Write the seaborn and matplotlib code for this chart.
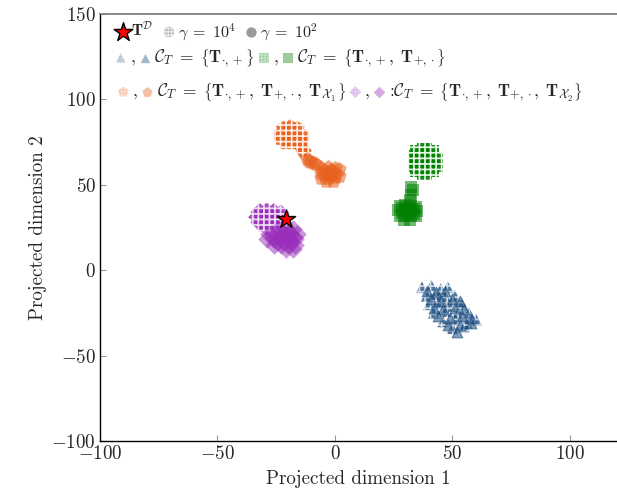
import matplotlib
matplotlib.use("Agg")
import matplotlib.pyplot as plt
import seaborn as sns
import numpy as np
import pandas as pd

# ---------------- data ----------------
# C_T = {T.+}  (blue triangles)
blue_h_x = [37, 41, 45, 48, 39, 43, 47, 51, 40, 44, 49, 54, 42, 47, 52, 57, 46, 51, 56, 60, 50, 55]
blue_h_y = [-10, -9, -11, -10, -15, -14, -16, -15, -20, -19, -21, -20, -25, -24, -26, -25, -30, -29, -31, -29, -34, -33]
blue_s_x = [39, 43, 47, 41, 45, 50, 53, 42, 46, 51, 55, 44, 49, 54, 58, 48, 53, 58, 52]
blue_s_y = [-12, -13, -12, -17, -18, -17, -18, -22, -23, -22, -23, -27, -28, -27, -28, -32, -32, -31, -36]

# C_T = {T.+, T+.}  (green squares)
green_h_x = [35, 38, 41, 34, 37, 40, 43, 34, 37, 40, 43, 35, 38, 41, 38]
green_h_y = [69, 70, 69, 66, 66, 66, 65, 62, 62, 62, 62, 59, 59, 59, 57]
green_s_x = [27.5, 30, 32.5, 34.5, 27, 30, 32.5, 35, 27.5, 30, 32.5, 34.5, 29.5, 32,
             32, 32.5, 33, 32.5, 28.5, 31, 33.5, 28.5, 31, 33.5]
green_s_y = [37.5, 38, 37.5, 37, 35, 35, 35, 34.5, 32, 31.5, 32, 32, 29.5, 29.5,
             41, 44, 47, 49, 36.5, 36.5, 36, 33.5, 33.5, 33]

# C_T = {T.+, T+., T_X1}  (orange pentagons)
orange_h_x = [-22, -19, -16, -23, -20, -17, -14, -23, -20, -17, -14, -21, -18, -15, -14, -13]
orange_h_y = [83, 84, 83, 80, 80, 80, 79, 77, 77, 77, 76, 74.5, 74.5, 74, 71, 69]
orange_s_x = [-12, -10, -8, -6, -3, 0, -6, -3, 0, -6, -3, 0, -4, -1,
              -4.5, -1.5, -4.5, -1.5, -9, -11, 1.5, 1.5]
orange_s_y = [65, 63.5, 62, 60, 60.5, 60, 57, 57, 57, 54, 54, 54.5, 52, 52,
              58.5, 58.5, 55.5, 55.5, 63, 64, 59, 55]

# C_T = {T.+, T+., T_X2}  (purple diamonds)
purple_h_x = [-32, -29, -26, -23, -33, -30, -27, -24, -32, -29, -26, -29]
purple_h_y = [34, 34.5, 34, 33, 31, 31, 31, 30, 28, 28, 27.5, 25]
purple_s_x = [-24, -21, -18, -28, -25, -22, -19, -16, -29, -26, -23, -20, -17, -26, -23, -20, -17, -21, -18,
              -22.5, -19.5, -26.5, -23.5, -20.5, -17.5, -24.5, -21.5, -18.5]
purple_s_y = [24, 24.5, 24, 21, 21, 21, 21, 21, 18, 18, 18, 18, 18, 15, 15, 15, 15, 12.5, 12.5,
              22.5, 22.5, 19.5, 19.5, 19.5, 19.5, 16.5, 16.5, 16.5]

# T^D
star_x = [-21]
star_y = [30]

labels_row1 = [r'$\mathbf{T}^{\mathcal{D}}$', r'$\gamma\;=\;10^4$', r'$\gamma\;=\;10^2$']
label_c1 = r'$\mathcal{C}_T\;=\;\left\{\mathbf{T}_{\cdot,+}\right\}$'
label_c2 = r'$\mathcal{C}_T\;=\;\left\{\mathbf{T}_{\cdot,+},\;\mathbf{T}_{+,\cdot}\right\}$'
label_c3 = r'$\mathcal{C}_T\;=\;\left\{\mathbf{T}_{\cdot,+},\;\mathbf{T}_{+,\cdot},\;\mathbf{T}_{\mathcal{X}_1}\right\}$'
label_c4 = r':$\mathcal{C}_T\;=\;\left\{\mathbf{T}_{\cdot,+},\;\mathbf{T}_{+,\cdot},\;\mathbf{T}_{\mathcal{X}_2}\right\}$'

# ---------------- style ----------------
sns.set_style("white")
plt.rcParams['font.family'] = 'serif'
plt.rcParams['font.serif'] = ['cmr10', 'DejaVu Serif']
plt.rcParams['mathtext.fontset'] = 'cm'
plt.rcParams['axes.formatter.use_mathtext'] = True
plt.rcParams['hatch.color'] = 'white'
plt.rcParams['hatch.linewidth'] = 1.2
plt.rcParams['axes.unicode_minus'] = True

BLUE = '#174A7E'
GREEN = '#008000'
ORANGE = '#E8601C'
PURPLE = '#9A2EBA'

fig = plt.figure(figsize=(6.17, 5.0), dpi=100)
ax = fig.add_axes([0.162, 0.118, 0.838, 0.854])

HATCH = '+++'

def cloud(x, y, color, marker, s, hatched, alpha=0.55, lw=0.0):
    kw = dict(x=x, y=y, color=color, marker=marker, s=s, alpha=alpha, ax=ax, legend=False)
    if hatched:
        kw.update(hatch=HATCH, edgecolor='white', linewidth=0.0)
    else:
        kw.update(edgecolor=color, linewidth=lw)
    sns.scatterplot(**kw)

cloud(blue_h_x, blue_h_y, BLUE, '^', 70, True, alpha=0.75)
cloud(blue_s_x, blue_s_y, BLUE, '^', 60, False, alpha=0.55, lw=0.8)
cloud(green_h_x, green_h_y, GREEN, 's', 110, True, alpha=0.9)
cloud(green_s_x, green_s_y, GREEN, 's', 80, False, alpha=0.55)
cloud(orange_h_x, orange_h_y, ORANGE, 'p', 120, True, alpha=0.9)
cloud(orange_s_x, orange_s_y, ORANGE, 'p', 120, False, alpha=0.55)
cloud(purple_h_x, purple_h_y, PURPLE, 'D', 90, True, alpha=0.85)
cloud(purple_s_x, purple_s_y, PURPLE, 'D', 90, False, alpha=0.5)

sns.scatterplot(x=star_x, y=star_y, marker='*', s=190, color='red',
                edgecolor='black', linewidth=1.0, ax=ax, legend=False, zorder=5)

# ---------------- axes ----------------
ax.set_xlim(-100, 120)
ax.set_ylim(-100, 150)
ax.set_xticks([-100, -50, 0, 50, 100])
ax.set_yticks([-100, -50, 0, 50, 100, 150])
ax.tick_params(direction='in', length=4.5, width=0.8, color='#999999',
               labelsize=13.7, pad=3, top=False, right=False, bottom=True, left=True)
ax.set_xlabel('Projected dimension 1', fontsize=13.7, labelpad=5)
ax.set_ylabel('Projected dimension 2', fontsize=13.7, labelpad=3)
for side in ['left', 'bottom']:
    ax.spines[side].set_color('black')
    ax.spines[side].set_linewidth(1.0)
ax.spines['top'].set_color('#777777')
ax.spines['top'].set_linewidth(1.2)
ax.spines['right'].set_visible(False)

# ---------------- legend ----------------
def proxy(color, marker, hatched, s=45, alpha=0.4, ec=None, lw=0.0):
    kw = dict(c=[color], marker=marker, s=s, alpha=alpha)
    if hatched:
        kw.update(hatch='+++++', edgecolor='white', linewidths=0.0)
    else:
        kw.update(edgecolors=ec if ec else color, linewidths=lw)
    return ax.scatter([], [], **kw)

star_h = ax.scatter([], [], c=['red'], marker='*', s=200, edgecolors='black', linewidths=1.0)
g4_h = proxy('#777777', 'o', True, s=55, alpha=0.75)
g2_h = proxy('#777777', 'o', False, s=55, alpha=0.75)

common = dict(loc='center left', frameon=False, handletextpad=0.1,
              handlelength=0.9, borderaxespad=0.0, borderpad=0.0, scatterpoints=1)

leg1 = ax.legend(handles=[star_h, g4_h, g2_h], labels=labels_row1, ncol=3, fontsize=11.5,
                 bbox_to_anchor=(0.03, 0.96), columnspacing=0.5, **common)
ax.add_artist(leg1)

leg2 = ax.legend(handles=[proxy(BLUE, '^', True), proxy(BLUE, '^', False),
                          proxy(GREEN, 's', True), proxy(GREEN, 's', False)],
                 labels=[',', label_c1, ',', label_c2], ncol=4, fontsize=12.5,
                 bbox_to_anchor=(0.025, 0.895), columnspacing=0.1, **common)
ax.add_artist(leg2)

leg3 = ax.legend(handles=[proxy(ORANGE, 'p', True, s=60), proxy(ORANGE, 'p', False, s=60),
                          proxy(PURPLE, 'D', True, s=35), proxy(PURPLE, 'D', False, s=35)],
                 labels=[',', label_c3, ',', label_c4], ncol=4, fontsize=12.5,
                 bbox_to_anchor=(0.03, 0.815), columnspacing=0.1, **common)

fig.savefig('out.png', dpi=100)
